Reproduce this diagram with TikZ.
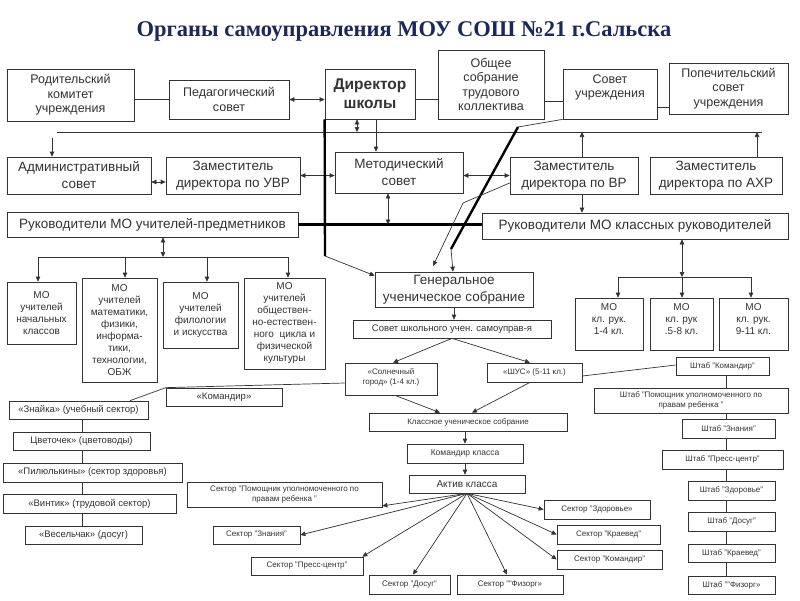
\documentclass[tikz,border=0pt]{standalone}
\usepackage{fontspec}
\setmainfont{Liberation Sans}
\newfontfamily\titlefont{Liberation Serif}
\usetikzlibrary{arrows.meta,backgrounds,calc}
\definecolor{lc}{gray}{0.2}
\definecolor{tc}{gray}{0.2}
\definecolor{titlec}{RGB}{28,40,90}
\tikzset{
  bx/.style={draw=lc, line width=0.7pt, fill=white, inner sep=0pt, align=center, text=tc},
  tx/.style={inner sep=0pt, align=center, text=tc},
  fA/.style={font=\fontsize{12.5}{14.5}\selectfont},
  fB/.style={font=\fontsize{13.5}{17}\selectfont},
  fD/.style={font=\bfseries\fontsize{15.5}{19}\selectfont},
  fM/.style={font=\fontsize{10}{12}\selectfont},
  fS/.style={font=\fontsize{9.5}{11}\selectfont},
  fT/.style={font=\fontsize{8.5}{10}\selectfont},
  fU/.style={font=\fontsize{8}{10}\selectfont},
  ln/.style={draw=lc, line width=0.7pt},
  thk/.style={draw=black, line width=2.4pt},
  arr/.style={ln, -{Triangle[length=5pt,width=4.5pt]}},
  darr/.style={ln, {Triangle[length=5pt,width=4.5pt]}-{Triangle[length=5pt,width=4.5pt]}}
}
\begin{document}
\begin{tikzpicture}[x=1pt,y=-1pt]
\useasboundingbox (0,0) rectangle (800,600);
% title
\node[inner sep=0pt, text=titlec, font=\titlefont\bfseries\fontsize{22.5}{26}\selectfont] (title) at (404,31) {Органы самоуправления МОУ СОШ №21 г.Сальска};
% row 1
\node[bx, fA, minimum width=127pt, minimum height=52pt] (rod) at (70.5,95) {Родительский\\комитет\\учреждения};
\node[bx, fA, minimum width=120pt, minimum height=39pt] (ped) at (229,99.5) {Педагогический\\совет};
\node[bx, fD, minimum width=90pt, minimum height=50pt] (dir) at (370,94) {Директор\\школы};
\node[bx, fA, minimum width=106pt, minimum height=69pt] (obs) at (491,84.5) {Общее\\собрание\\трудового\\коллектива};
\node[bx, minimum width=94pt, minimum height=50pt] (sov) at (610,94) {};
\node[tx, fA] (sovt) at (610,87.5) {Совет\\учреждения};
\node[bx, fA, minimum width=119pt, minimum height=51pt] (pop) at (728.5,88.5) {Попечительский\\совет\\учреждения};
% row 2
\node[bx, fB, minimum width=144pt, minimum height=37pt] (adm) at (79,175.5) {Административный\\совет};
\node[bx, fB, minimum width=134pt, minimum height=37pt] (uvr) at (233,175.5) {Заместитель\\директора по УВР};
\node[bx, fB, minimum width=128pt, minimum height=41pt] (met) at (399,172.5) {Методический\\совет};
\node[bx, fB, minimum width=128pt, minimum height=37pt] (vr) at (574,175.5) {Заместитель\\директора по ВР};
\node[bx, fB, minimum width=132pt, minimum height=37pt] (ahr) at (716,175.5) {Заместитель\\директора по АХР};
% row 3
\node[bx, fB, minimum width=291pt, minimum height=25pt] (rpr) at (152.5,224.5) {Руководители МО учителей-предметников};
\node[bx, fB, minimum width=306pt, minimum height=26pt] (rkl) at (635,226) {Руководители МО классных руководителей};
% MO teachers
\node[bx, fM, minimum width=69pt, minimum height=62pt] (mo1) at (41.5,313) {МО\\учителей\\начальных\\классов};
\node[bx, fM, minimum width=75pt, minimum height=104pt] (mo2) at (119.5,330) {МО\\учителей\\математики,\\физики,\\информа-\\тики,\\технологии,\\ОБЖ};
\node[bx, fM, minimum width=75pt, minimum height=66pt] (mo3) at (200.5,315) {МО\\учителей\\филологии\\и искусства};
\node[bx, fM, minimum width=81pt, minimum height=91pt] (mo4) at (284.5,323.5) {МО\\учителей\\обществен-\\но-естествен-\\ного\ \ цикла и\\физической\\культуры};
% MO class leaders
\node[bx, minimum width=68pt, minimum height=52pt] (k1) at (609,324) {};
\node[tx, fM] (k1t) at (609,319) {МО\\кл. рук.\\1-4 кл.};
\node[bx, minimum width=63pt, minimum height=52pt] (k2) at (681.5,324) {};
\node[tx, fM] (k2t) at (681.5,319) {МО\\кл. рук\\.5-8 кл.};
\node[bx, minimum width=69pt, minimum height=52pt] (k3) at (753.5,324) {};
\node[tx, fM] (k3t) at (753.5,319) {МО\\кл. рук.\\9-11 кл.};
% student self-government
\node[bx, fB, minimum width=158pt, minimum height=35pt] (gen) at (454,289.5) {Генеральное\\ученическое собрание};
\node[bx, fS, minimum width=198pt, minimum height=18pt] (sov2) at (452,329) {Совет школьного учен. самоуправ-я};
\node[bx, minimum width=92pt, minimum height=32pt] (sol) at (391,379) {};
\node[tx, fU] (solt) at (391,377) {«Солнечный\\город» (1-4 кл.)};
\node[bx, fU, minimum width=95pt, minimum height=19pt] (shus) at (534.5,372.5) {«ШУС» (5-11 кл.)};
\node[bx, fU, minimum width=198pt, minimum height=18pt] (klass) at (468,422) {Классное ученическое собрание};
\node[bx, fT, minimum width=116pt, minimum height=19pt] (komk) at (465,453.5) {Командир класса};
\node[bx, fM, minimum width=116pt, minimum height=18pt] (akt) at (467,484) {Актив класса};
% sectors
\node[bx, fU, minimum width=195pt, minimum height=25pt] (s1) at (284.5,494.5) {Сектор "Помощник уполномоченного по\\правам ребенка "};
\node[bx, fU, minimum width=87pt, minimum height=18pt] (s2) at (256.5,535) {Сектор "Знания"};
\node[bx, fU, minimum width=112pt, minimum height=18pt] (s3) at (307,566) {Сектор "Пресс-центр"};
\node[bx, fU, minimum width=81pt, minimum height=19pt] (s4) at (409.5,584.5) {Сектор "Досуг"};
\node[bx, fU, minimum width=106pt, minimum height=19pt] (s5) at (510,584.5) {Сектор ""Физорг»};
\node[bx, fU, minimum width=106pt, minimum height=19pt] (s6) at (597,509.5) {Сектор "Здоровье»};
\node[bx, fU, minimum width=103pt, minimum height=19pt] (s7) at (608.5,534.5) {Сектор "Краевед"};
\node[bx, fU, minimum width=105pt, minimum height=19pt] (s8) at (609.5,559.5) {Сектор "Командир"};
% left column
\node[bx, fS, minimum width=116pt, minimum height=18pt] (kmd) at (224,397) {«Командир»};
\node[bx, fS, minimum width=139pt, minimum height=18pt] (zn) at (78.5,410) {«Знайка» (учебный сектор)};
\node[bx, fS, minimum width=137pt, minimum height=18pt] (cv) at (81.5,441) {Цветочек» (цветоводы)};
\node[bx, fS, minimum width=179pt, minimum height=19pt] (pil) at (92.5,472.5) {«Пилюлькины» (сектор здоровья)};
\node[bx, fS, minimum width=173pt, minimum height=19pt] (vin) at (89.5,503.5) {«Винтик» (трудовой сектор)};
\node[bx, fS, minimum width=117pt, minimum height=18pt] (ves) at (83.5,535) {«Весельчак» (досуг)};
% right column
\node[bx, fU, minimum width=93pt, minimum height=18pt] (h1) at (722.5,366) {Штаб "Командир"};
\node[bx, fU, minimum width=194pt, minimum height=25pt] (h2) at (691,400.5) {Штаб "Помощник уполномоченного по\\правам ребенка "};
\node[bx, fU, minimum width=93pt, minimum height=19pt] (h3) at (728.5,428.5) {Штаб "Знания"};
\node[bx, fU, minimum width=121pt, minimum height=19pt] (h4) at (722.5,459.5) {Штаб "Пресс-центр"};
\node[bx, fU, minimum width=87pt, minimum height=19pt] (h5) at (731.5,490.5) {Штаб "Здоровье"};
\node[bx, fU, minimum width=87pt, minimum height=19pt] (h6) at (731.5,521.5) {Штаб "Досуг"};
\node[bx, fU, minimum width=87pt, minimum height=18pt] (h7) at (731.5,553) {Штаб "Краевед"};
\node[bx, fU, minimum width=87pt, minimum height=18pt] (h8) at (731.5,585) {Штаб ""Физорг»};
% coordinates
\coordinate (hl1) at (57,132);
\coordinate (hl2) at (762,132);
\coordinate (adma) at (52,138);
\coordinate (tv) at (325,256);
\coordinate (d1) at (518,127);
\coordinate (d2) at (451,249);
\coordinate (t1) at (463,203);
\coordinate (t2) at (433,266);
\coordinate (bl) at (38,257);
\coordinate (b2) at (125,257);
\coordinate (b3) at (207,257);
\coordinate (br) at (288,257);
\coordinate (kl) at (618,277);
\coordinate (km) at (682,277);
\coordinate (kr) at (751,277);
% connectors
\begin{scope}[on background layer]
\fill[white] (0,0) rectangle (800,600);
\draw[ln] ([xshift=3.5pt]zn.south) -- ([xshift=3.5pt]zn.south |- ves.north);
\draw[ln] ([xshift=3.5pt]h1.south) -- ([xshift=3.5pt]h1.south |- h8.north);
\end{scope}
\draw[ln] (rod.east |- ped.west) -- (ped.west);
\draw[darr] (ped.east) -- (dir.west |- ped.east);
\draw[ln] (dir.east |- ped.east) -- (obs.west |- ped.east);
\draw[ln] ([yshift=-7pt]sov.west -| obs.east) -- ([yshift=-7pt]sov.west);
\draw[ln] ([yshift=-13pt]sov.east) -- ([yshift=-13pt]sov.east -| pop.west);
\draw[ln] (hl1) -- (hl2);
\draw[darr] ([xshift=-13pt]dir.south) -- ([xshift=-13pt]dir.south |- hl1);
\draw[arr] ([xshift=6pt]dir.south) -- ([xshift=6pt]dir.south |- met.north);
\draw[arr] (adma) -- (adma |- adm.north);
\draw[darr] ([yshift=-6.5pt]adm.east) -- ([yshift=-6.5pt]adm.east -| uvr.west);
\draw[darr] (uvr.east) -- (uvr.east -| met.west);
\draw[darr] (met.east |- vr.west) -- (vr.west);
\draw[arr] ([xshift=8pt]vr.north) -- ([xshift=8pt]vr.north |- hl1);
\draw[arr] ([xshift=41pt]ahr.north) -- ([xshift=41pt]ahr.north |- hl1);
\draw[arr] ([xshift=8pt]vr.south) -- ([xshift=8pt]vr.south |- rkl.north);
\draw[thk] (rpr.east) -- (rpr.east -| rkl.west);
\draw[darr] ([xshift=-11pt]met.south) -- ([xshift=-11pt]met.south |- rpr.east);
\draw[thk] (dir.south west) -- (tv);
\draw[arr] (tv) -- ([yshift=-4pt]gen.north west);
\draw[ln] (sov.south west) -- (d1);
\draw[thk] (d1) -- (d2);
\draw[arr] (d2) -- ([xshift=-1pt]gen.north);
\draw[arr] ([yshift=-7.5pt]vr.west) -- (t1) -- (t2);
% MO teachers branch
\draw[darr] ([xshift=10.5pt]rpr.south) -- ([xshift=10.5pt]rpr.south |- bl);
\draw[ln] (bl) -- (br);
\draw[arr] (bl) -- (bl |- mo1.north);
\draw[arr] (b2) -- (b2 |- mo2.north);
\draw[arr] (b3) -- (b3 |- mo3.north);
\draw[arr] (br) -- (br |- mo4.north);
% MO class branch
\draw[darr] ([xshift=47pt]rkl.south) -- (km);
\draw[ln] (kl) -- (kr);
\draw[arr] (kl) -- (kl |- k1.north);
\draw[arr] (km) -- (km |- k2.north);
\draw[arr] (kr) -- (kr |- k3.north);
% student chain
\draw[arr] (gen.south) -- (gen.south |- sov2.north);
\draw[arr] (sov2.south) -- ([xshift=2pt]sol.north);
\draw[arr] (sov2.south) -- ([xshift=-4.5pt]shus.north);
\draw[arr] ([xshift=4pt]sol.south) -- ([xshift=-28pt]klass.north);
\draw[arr] ([xshift=-4.5pt]shus.south) -- ([xshift=4pt]klass.north);
\draw[arr] (komk.north |- klass.south) -- (komk.north);
\draw[arr] (komk.south) -- (komk.south |- akt.north);
% fan from Актив класса
\draw[arr] (akt.south) -- ([yshift=1.5pt]s1.south east);
\draw[arr] (akt.south) -- (s2.east);
\draw[arr] (akt.south) -- ([xshift=-1pt]s3.north east);
\draw[arr] (akt.south) -- ([xshift=3.5pt]s4.north);
\draw[arr] (akt.south) -- ([xshift=-3pt]s5.north);
\draw[arr] (akt.south) -- (s6.west);
\draw[arr] (akt.south) -- (s7.west);
\draw[arr] (akt.south) -- (s8.west);
% side links
\draw[ln] ([yshift=-4pt]sol.west) -- (kmd.north west) -- ([xshift=51.5pt]zn.north);
\draw[ln] ([yshift=-3.5pt]shus.east) -- ([yshift=1pt]h1.west);
\end{tikzpicture}
\end{document}
